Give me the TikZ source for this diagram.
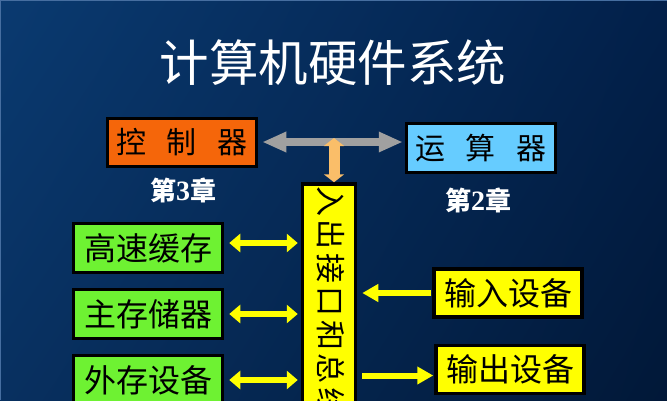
\documentclass[tikz,border=0pt]{standalone}
\usepackage{fontspec}
\setmainfont{Noto Sans CJK SC}
\newfontfamily\cjk{Noto Sans CJK SC}
\newfontfamily\lserif{Liberation Serif}
\usetikzlibrary{arrows.meta,shadings}
\definecolor{bgUL}{RGB}{10,58,112}
\definecolor{bgUR}{RGB}{2,32,74}
\definecolor{bgLL}{RGB}{8,48,96}
\definecolor{bgLR}{RGB}{1,24,56}
\definecolor{bgLine}{RGB}{70,110,160}
\definecolor{ctrlOrange}{RGB}{245,102,10}
\definecolor{aluBlue}{RGB}{102,204,255}
\definecolor{boxGreen}{RGB}{110,242,50}
\definecolor{boxYellow}{RGB}{255,255,0}
\definecolor{arrGray}{RGB}{160,160,160}
\definecolor{arrOrange}{RGB}{250,190,105}
\tikzset{
  unitbox/.style={draw=black, line width=3.5pt, inner sep=0pt, text=black,
    font=\cjk\fontsize{30}{34}\selectfont},
  greenbox/.style={unitbox, fill=boxGreen, minimum width=149pt, minimum height=49pt,
    font=\cjk\fontsize{32}{34}\selectfont},
  yellowbox/.style={unitbox, fill=boxYellow, minimum width=148pt, minimum height=48pt,
    font=\cjk\fontsize{32}{34}\selectfont},
  chaplabel/.style={text=white, inner sep=0pt, font=\cjk\bfseries\fontsize{26}{30}\selectfont},
  yarrow/.style={draw=boxYellow, line width=6pt,
    {Triangle[width=18pt,length=11pt]}-{Triangle[width=18pt,length=11pt]}},
  yarrowR/.style={draw=boxYellow, line width=6pt, -{Triangle[width=17pt,length=16pt]}},
  garrow/.style={draw=arrGray, line width=8pt,
    {Triangle[width=19pt,length=24pt]}-{Triangle[width=19pt,length=24pt]}},
  oarrow/.style={draw=arrOrange, line width=11pt,
    {Triangle[width=20pt,length=8pt]}-{Triangle[width=20pt,length=8pt]}}
}
\newcommand{\bgap}{\hspace{3.5pt}}
\begin{document}
\begin{tikzpicture}[x=1pt,y=-1pt]
\useasboundingbox (0,0) rectangle (667,400);
\clip (0,0) rectangle (667,400);
\shade[upper left=bgUL, upper right=bgUR, lower left=bgLL, lower right=bgLR] (0,0) rectangle (667,400);
\draw[bgLine, line width=1.2pt] (0.6,400) -- (0.6,0.6) -- (667,0.6);

\node[text=white, inner sep=0pt, font=\cjk\fontsize{49.5}{54}\selectfont] (title) at (333,63) {计算机硬件系统};

\node[unitbox, fill=ctrlOrange, minimum width=149pt, minimum height=48pt] (ctrl) at (182,142.5)
  {控\hspace{0.68em}制\hspace{0.68em}器};
\node[unitbox, fill=aluBlue, minimum width=149pt, minimum height=49pt] (alu) at (481,148)
  {运\hspace{0.68em}算\hspace{0.68em}器};

\node[chaplabel] (ch3) at (183,190) {第{\lserif\bfseries\fontsize{28}{30}\selectfont 3}章};
\node[chaplabel] (ch2) at (478,200) {第{\lserif\bfseries\fontsize{28}{30}\selectfont 2}章};

\node[unitbox, fill=boxYellow, minimum width=53pt, minimum height=240pt] (bar) at (329,304) {};
\node[inner sep=0pt, rotate=-90, anchor=west, text=black, font=\cjk\fontsize{30}{32}\selectfont]
  (bartext) at (331,186) {入\bgap 出\bgap 接\bgap 口\bgap 和\bgap 总\bgap 线};

\node[greenbox] (cache) at (148,248) {高速缓存};
\node[greenbox] (mem) at (148,314) {主存储器};
\node[greenbox] (ext) at (148,380) {外存设备};

\node[yellowbox] (inp) at (508,293) {输入设备};
\node[yellowbox] (outp) at (510,369.5) {输出设备};

\coordinate (busmid) at (334,142);
\draw[garrow, shorten <=4pt, shorten >=2pt] (ctrl.east |- busmid) -- (alu.west |- busmid);
\draw[oarrow] ([yshift=4pt]busmid) -- (busmid |- bar.north);

\draw[yarrow, shorten <=5pt, shorten >=3pt] ([yshift=5pt]cache.east) -- ([yshift=5pt]cache.east -| bar.west);
\draw[yarrow, shorten <=5pt, shorten >=3pt] (mem.east) -- (mem.east -| bar.west);
\draw[yarrow, shorten <=5pt, shorten >=3pt] (ext.east) -- (ext.east -| bar.west);

\draw[yarrowR, shorten <=1pt, shorten >=5pt] (inp.west) -- (inp.west -| bar.east);
\draw[yarrowR, shorten <=5pt, shorten >=1pt] ([yshift=-6pt]outp.west -| bar.east) -- ([yshift=-6pt]outp.west);
\end{tikzpicture}
\end{document}
